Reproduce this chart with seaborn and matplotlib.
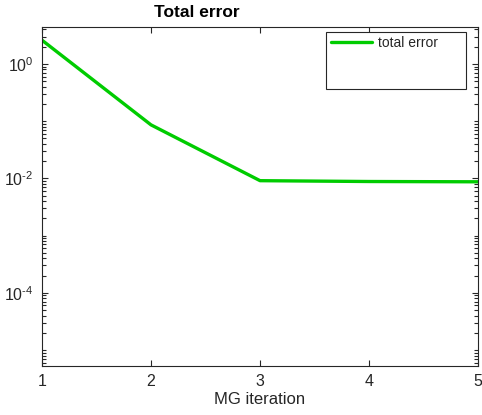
import numpy as np
import pandas as pd
import seaborn as sns
import matplotlib
matplotlib.use("Agg")
import matplotlib.pyplot as plt
from matplotlib.patches import Rectangle
from matplotlib.ticker import FixedLocator, FixedFormatter, NullFormatter

# Multigrid convergence history
iterations = [1, 2, 3, 4, 5]
total_error = [2.6, 0.086, 0.0091, 0.0088, 0.0087]
series_name = "total error"

y_major = [1e-4, 1e-2, 1e0]
y_major_labels = [r"$10^{\text{-}4}$", r"$10^{\text{-}2}$", r"$10^{0}$"]

sns.set_style("ticks")
plt.rcParams["font.family"] = ["Liberation Sans", "DejaVu Sans"]
plt.rcParams["mathtext.fontset"] = "custom"
plt.rcParams["mathtext.rm"] = "Liberation Sans"
plt.rcParams["mathtext.it"] = "Liberation Sans"

df = pd.DataFrame({"iteration": iterations, "error": total_error, "series": series_name})

fig = plt.figure(figsize=(4.82, 4.15), dpi=100)
ax = fig.add_axes([0.087, 0.118, 0.905, 0.817])

sns.lineplot(data=df, x="iteration", y="error", hue="series",
             palette=["#00cc00"], linewidth=2.4, ax=ax)
ax.set_yscale("log")
ax.set_xlim(1, 5)
ax.set_ylim(10 ** -5.28, 10 ** 0.645)

dark = "#262626"
ax.set_xticks(iterations)
ax.set_xticklabels([str(i) for i in iterations])
ax.yaxis.set_major_locator(FixedLocator(y_major))
ax.yaxis.set_major_formatter(FixedFormatter(y_major_labels))
minor = [k * 10.0 ** e for e in range(-6, 1) for k in range(1, 10)]
minor = [m for m in minor if m not in y_major]
ax.yaxis.set_minor_locator(FixedLocator(minor))
ax.yaxis.set_minor_formatter(NullFormatter())

ax.tick_params(axis="both", which="major", direction="in", length=4.5, width=0.8,
               colors=dark, labelsize=11.5, top=True, right=True,
               left=True, bottom=True, pad=6)
ax.tick_params(axis="y", which="minor", direction="in", length=3, width=0.8,
               color=dark, right=True, left=True)
for sp in ax.spines.values():
    sp.set_color(dark)
    sp.set_linewidth(0.8)
    sp.set_visible(True)

ax.set_xlabel("MG iteration", fontsize=12, color=dark, labelpad=2)
ax.set_ylabel("")
fig.text(0.409, 0.952, "Total error", fontsize=12.5, fontweight="bold",
         ha="center", va="bottom", color="black")

# legend entry without its own frame, inside a larger box
leg = ax.legend(loc="upper left", bbox_to_anchor=(0.652, 0.985), frameon=False,
                fontsize=10, handlelength=3.0, handletextpad=0.4,
                borderpad=0.3, borderaxespad=0)
ax.add_patch(Rectangle((0.651, 0.817), 0.321, 0.168, transform=ax.transAxes,
                       fill=True, facecolor="white", edgecolor=dark,
                       linewidth=0.8, zorder=4))
leg.set_zorder(5)

fig.savefig("out.png", dpi=100)
